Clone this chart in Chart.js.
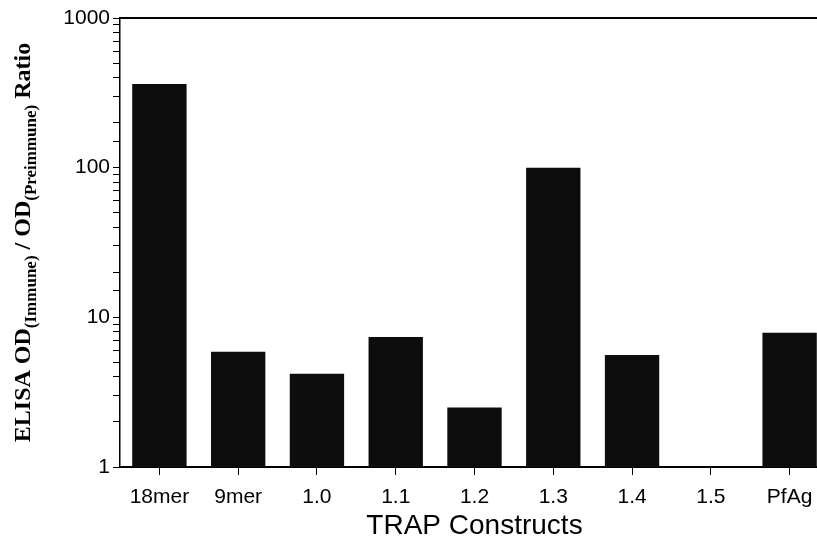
<!DOCTYPE html>
<html>
<head>
<meta charset="utf-8">
<script src="https://cdn.jsdelivr.net/npm/chart.js@4.4.1/dist/chart.umd.min.js"></script>
<style>
  html, body { margin: 0; padding: 0; background: #fff; overflow: hidden; }
  canvas { display: block; }
</style>
</head>
<body>
<canvas id="myChart" width="829" height="544"></canvas>
<script>
const constructs = ['18mer', '9mer', '1.0', '1.1', '1.2', '1.3', '1.4', '1.5', 'PfAg'];
const ratios = [362, 5.9, 4.2, 7.4, 2.5, 100, 5.6, 1, 7.9];
const majorTicks = [1, 10, 100, 1000];

// y title has subscripts, so it is drawn by hand
const yTitleParts = [
    { text: 'ELISA OD', sub: false },
    { text: '(Immune)', sub: true },
    { text: ' / OD', sub: false },
    { text: '(Preimmune)', sub: true },
    { text: ' Ratio', sub: false }
];

const frame = {
    id: 'frame',
    afterDraw(chart) {
        const ctx = chart.ctx;
        const area = chart.chartArea;
        ctx.save();
        // top border
        ctx.strokeStyle = '#000';
        ctx.lineWidth = 2;
        ctx.beginPath();
        ctx.moveTo(area.left, area.top);
        ctx.lineTo(chart.width, area.top);
        ctx.stroke();

        // rotated y title
        const mainFont = 'bold 24px "Liberation Serif", "Times New Roman", serif';
        const subFont = 'bold 17px "Liberation Serif", "Times New Roman", serif';
        let total = 0;
        yTitleParts.forEach(p => {
            ctx.font = p.sub ? subFont : mainFont;
            p.w = ctx.measureText(p.text).width;
            total += p.w;
        });
        const cy = (area.top + area.bottom) / 2;
        ctx.translate(30, cy);
        ctx.rotate(-Math.PI / 2);
        ctx.fillStyle = '#000';
        ctx.textBaseline = 'alphabetic';
        let x = -total / 2;
        yTitleParts.forEach(p => {
            ctx.font = p.sub ? subFont : mainFont;
            ctx.fillText(p.text, x, p.sub ? 6 : 0);
            x += p.w;
        });
        ctx.restore();
    }
};

const data = {
    labels: constructs,
    datasets: [
        {
            data: ratios,
            backgroundColor: '#0d0d0d',
            borderWidth: 0,
            barPercentage: 0.69,
            categoryPercentage: 1
        }
    ]
};

const config = {
    type: 'bar',
    data: data,
    options: {
        responsive: false,
        animation: false,
        layout: {
            padding: { left: 8, top: 18, right: 0, bottom: 0 }
        },
        scales: {
            x: {
                grid: {
                    display: true,
                    drawOnChartArea: false,
                    offset: false,
                    color: '#000',
                    tickLength: 8
                },
                border: { color: '#000', width: 2 },
                ticks: {
                    color: '#000',
                    padding: 10,
                    font: { family: '"Liberation Sans", Arial, sans-serif', size: 21 }
                },
                title: {
                    display: true,
                    text: 'TRAP Constructs',
                    color: '#000',
                    padding: { top: 0, bottom: 1 },
                    font: { family: '"Liberation Sans", Arial, sans-serif', size: 28 }
                },
                afterFit(scale) { scale.height = 77; }
            },
            y: {
                type: 'logarithmic',
                min: 1,
                max: 1000,
                grid: {
                    display: true,
                    drawOnChartArea: false,
                    color: '#000',
                    tickLength: 7
                },
                border: { color: '#000', width: 1.5 },
                ticks: {
                    color: '#000',
                    padding: 3,
                    autoSkip: false,
                    font: { family: '"Liberation Sans", Arial, sans-serif', size: 21 },
                    callback: (v) => majorTicks.includes(v) ? String(v) : ''
                },
                afterFit(scale) { scale.width = 112; }
            }
        },
        plugins: {
            legend: { display: false },
            tooltip: { enabled: false }
        }
    },
    plugins: [frame]
};

const myChart = new Chart(
    document.getElementById('myChart'),
    config
);
</script>
</body>
</html>
